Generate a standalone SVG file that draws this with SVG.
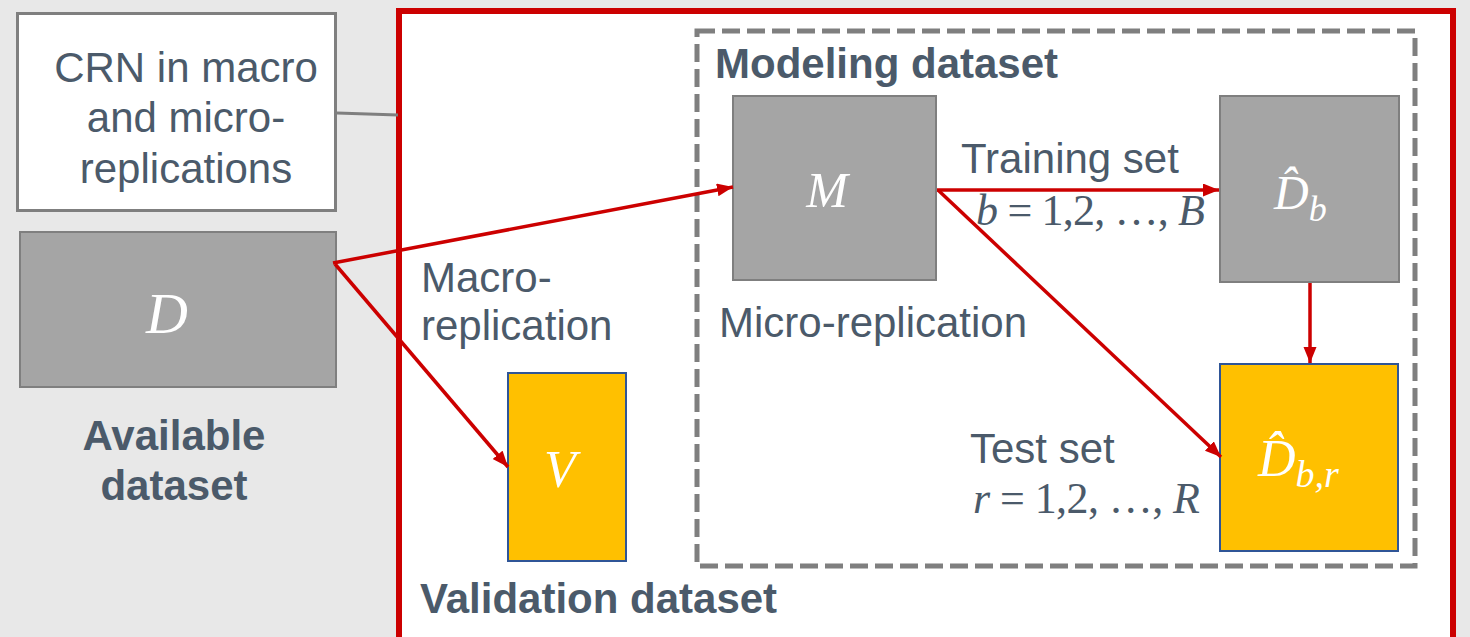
<svg xmlns="http://www.w3.org/2000/svg" width="1470" height="637" viewBox="0 0 1470 637">
<defs>
<marker id="ah" markerUnits="userSpaceOnUse" markerWidth="17" markerHeight="14" refX="16" refY="6.5" orient="auto">
<path d="M0,0 L16,6.5 L0,13 z" fill="#cc0000"/>
</marker>
<style>
.txt{font-family:"Liberation Sans",Arial,sans-serif;font-size:42px;fill:#4b5a6a}
.bold{font-weight:bold}
.math{font-family:"Liberation Serif","DejaVu Serif",serif;fill:#4b5a6a}
.mw{font-family:"Liberation Serif","DejaVu Serif",serif;font-style:italic;fill:#ffffff}
.it{font-style:italic}
.gray{fill:#a5a5a5;stroke:#7f7f7f;stroke-width:2}
.gold{fill:#ffc000;stroke:#2f5597;stroke-width:2}
.arr{stroke:#cc0000;stroke-width:3.5;fill:none;marker-end:url(#ah)}
</style>
</defs>
<rect x="0" y="0" width="1470" height="637" fill="#e8e8e8"/>
<g id="validation">
<rect x="399" y="11" width="1054" height="640" fill="#ffffff" stroke="#cc0000" stroke-width="6"/>
<text class="txt bold" x="420" y="613">Validation dataset</text>
</g>
<g id="modeling">
<rect x="697" y="31" width="718" height="535" fill="none" stroke="#7f7f7f" stroke-width="5" stroke-dasharray="18 7"/>
<text class="txt bold" x="715" y="78">Modeling dataset</text>
</g>
<g id="crn">
<rect x="17.5" y="13.5" width="318" height="197" fill="#ffffff" stroke="#7f7f7f" stroke-width="3"/>
<text class="txt" text-anchor="middle"><tspan x="186" y="82">CRN in macro</tspan><tspan x="186" y="132">and micro-</tspan><tspan x="186" y="183">replications</tspan></text>
</g>
<g id="available">
<rect class="gray" x="20" y="232" width="316" height="155"/>
<text class="mw" x="167" y="333" font-size="58" text-anchor="middle">D</text>
<text class="txt bold" text-anchor="middle"><tspan x="174" y="450">Available</tspan><tspan x="174" y="500">dataset</tspan></text>
</g>
<g id="macro-label">
<text class="txt"><tspan x="421" y="292">Macro-</tspan><tspan x="421" y="340">replication</tspan></text>
</g>
<g id="V">
<rect class="gold" x="508" y="373" width="118" height="188"/>
<text class="mw" x="560" y="487" font-size="52" text-anchor="middle">V</text>
</g>
<g id="M">
<rect class="gray" x="733" y="96" width="203" height="184"/>
<text class="mw" x="827" y="207" font-size="50" text-anchor="middle">M</text>
<text class="txt" x="719" y="337">Micro-replication</text>
</g>
<g id="Db">
<rect class="gray" x="1220" y="96" width="179" height="186"/>
<text class="mw" x="1274" y="209" font-size="48">D̂<tspan font-size="36" dy="12">b</tspan></text>
</g>
<g id="Dbr">
<rect class="gold" x="1220" y="364" width="178" height="187"/>
<text class="mw" x="1258" y="476" font-size="52">D̂<tspan font-size="38" dy="11">b,r</tspan></text>
</g>
<g id="labels">
<text class="txt" x="961" y="173">Training set</text>
<text class="math" x="976" y="225" font-size="44" textLength="229" lengthAdjust="spacing"><tspan class="it">b</tspan> = 1,2, …, <tspan class="it">B</tspan></text>
<text class="txt" x="970" y="463">Test set</text>
<text class="math" x="973" y="513" font-size="44" textLength="227" lengthAdjust="spacing"><tspan class="it">r</tspan> = 1,2, …, <tspan class="it">R</tspan></text>
</g>
<g id="connectors">
<line x1="337" y1="113" x2="398" y2="115" stroke="#7f7f7f" stroke-width="3"/>
<line class="arr" x1="333" y1="263" x2="733" y2="187"/>
<line class="arr" x1="335" y1="264" x2="508" y2="467"/>
<line class="arr" x1="937" y1="190" x2="1219" y2="190"/>
<line class="arr" x1="938" y1="190" x2="1221" y2="457"/>
<line class="arr" x1="1310" y1="283" x2="1310" y2="363"/>
</g>
</svg>
